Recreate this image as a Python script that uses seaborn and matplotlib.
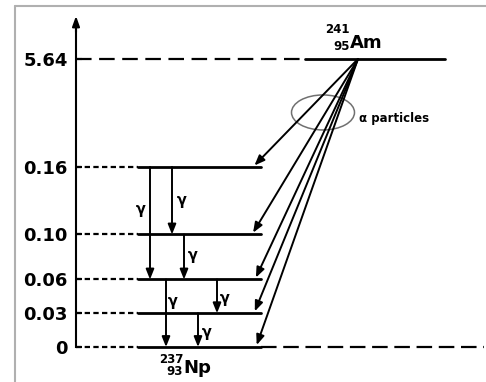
import numpy as np
import pandas as pd
import matplotlib
matplotlib.use('Agg')
import matplotlib.pyplot as plt
import seaborn as sns
from matplotlib.patches import Ellipse
from matplotlib.lines import Line2D

# ---------------- data ----------------
level_energies = [0.0, 0.03, 0.06, 0.10, 0.16]          # 237Np levels (MeV)
parent_energy = 5.64                                     # 241Am level (MeV)
tick_values = [0.0, 0.03, 0.06, 0.10, 0.16, 5.64]
tick_labels = ['0', '0.03', '0.06', '0.10', '0.16', '5.64']
gamma_from = [0.16, 0.16, 0.10, 0.06, 0.06, 0.03]
gamma_to = [0.06, 0.10, 0.06, 0.00, 0.03, 0.00]
alpha_to = [0.16, 0.10, 0.06, 0.03, 0.00]

# ---------------- layout ----------------
AXIS_X = 76
NP_X0, NP_X1 = 138, 261
AM_X0, AM_X1 = 305, 445
AM_SRC_X = 358
gamma_x = [150, 172, 184, 166, 217, 198]
gamma_label_dx = [-9, 10, 9, 7, 8, 9]
gamma_label_frac = [0.38, 0.5, 0.47, 0.33, 0.55, 0.56]
alpha_tip_x = [253, 252, 255, 254, 256]

BREAK = 0.16
K = 0.017518


def fwd(e):
    e = np.asarray(e, float)
    return np.where(e <= BREAK, e, BREAK + (e - BREAK) * K)


def inv(t):
    t = np.asarray(t, float)
    return np.where(t <= BREAK, t, BREAK + (t - BREAK) / K)


sns.set_theme(style='white', rc={'text.color': 'black', 'axes.edgecolor': 'black',
                                 'ytick.color': 'black', 'axes.labelcolor': 'black'})
plt.rcParams['font.family'] = ['DejaVu Sans']

fig = plt.figure(figsize=(4.86, 3.82), dpi=100)
ax = fig.add_axes([0, 0, 1, 1])

# solid energy levels via seaborn
rows = []
for e in level_energies:
    rows.append(dict(x=NP_X0, E=e, lvl=f'Np{e}'))
    rows.append(dict(x=NP_X1, E=e, lvl=f'Np{e}'))
rows.append(dict(x=AM_X0, E=parent_energy, lvl='Am'))
rows.append(dict(x=AM_X1, E=parent_energy, lvl='Am'))
df = pd.DataFrame(rows)
sns.lineplot(data=df, x='x', y='E', units='lvl', estimator=None, sort=False,
             color='black', lw=2, ax=ax, legend=False)
ax.set_xlabel('')
ax.set_ylabel('')

# dashed guides
for e in level_energies:
    ax.plot([AXIS_X, NP_X0], [e, e], color='black', lw=1.6, dashes=(2.4, 1.5))
ax.plot([AXIS_X, AM_X0], [parent_energy, parent_energy], color='black', lw=1.6,
        dashes=(7.0, 3.4))
ax.plot([NP_X1, 484], [0, 0], color='black', lw=1.6, dashes=(7.0, 3.0))

# gamma transitions
for ef, et, x, dx, fr in zip(gamma_from, gamma_to, gamma_x, gamma_label_dx, gamma_label_frac):
    ax.annotate('', xy=(x, et), xytext=(x, ef),
                arrowprops=dict(arrowstyle='-|>,head_length=0.5,head_width=0.2',
                                lw=1.4, color='black', shrinkA=0, shrinkB=0))
    ax.text(x + dx, ef - fr * (ef - et), 'γ', ha='center', va='center',
            fontsize=10.5, fontweight='bold')

# alpha transitions
for et, tx in zip(alpha_to, alpha_tip_x):
    ax.annotate('', xy=(tx, et), xytext=(AM_SRC_X, parent_energy),
                arrowprops=dict(arrowstyle='-|>,head_length=0.5,head_width=0.2',
                                lw=1.4, color='black', shrinkA=0, shrinkB=1.5))

# ellipse and label
ell = Ellipse((323, 2.925), 63, 1.776, fill=False, ec='#707070', lw=1.1)
ax.add_patch(ell)
ax.annotate('α particles', xy=(323, 2.925), xytext=(36, -6), textcoords='offset pixels',
            ha='left', va='center', fontsize=8.5, fontweight='bold')

# nuclide labels
ax.annotate('Am', xy=(350, parent_energy), xytext=(0, 11), textcoords='offset pixels',
            ha='left', va='baseline', fontsize=13, fontweight='bold')
ax.annotate('241', xy=(350, parent_energy), xytext=(0, 26), textcoords='offset pixels',
            ha='right', va='baseline', fontsize=8.5, fontweight='bold')
ax.annotate('95', xy=(350, parent_energy), xytext=(0, 9), textcoords='offset pixels',
            ha='right', va='baseline', fontsize=8.5, fontweight='bold')
ax.annotate('Np', xy=(183, 0), xytext=(0, -26), textcoords='offset pixels',
            ha='left', va='baseline', fontsize=13, fontweight='bold')
ax.annotate('237', xy=(183, 0), xytext=(0, -16), textcoords='offset pixels',
            ha='right', va='baseline', fontsize=8.5, fontweight='bold')
ax.annotate('93', xy=(183, 0), xytext=(0, -28), textcoords='offset pixels',
            ha='right', va='baseline', fontsize=8.5, fontweight='bold')

# axis
ax.set_yscale('function', functions=(fwd, inv))
ax.set_xlim(0, 486)
ax.set_ylim(-0.0311, 8.63)
for s in ['top', 'right', 'bottom']:
    ax.spines[s].set_visible(False)
ax.spines['left'].set_position(('data', AXIS_X))
ax.spines['left'].set_bounds(0, 7.5)
ax.spines['left'].set_linewidth(1.5)
ax.annotate('', xy=(AXIS_X, 7.82), xytext=(AXIS_X, 7.0),
            arrowprops=dict(arrowstyle='-|>,head_length=0.5,head_width=0.18',
                            lw=1.5, color='black', shrinkA=0, shrinkB=0))
ax.set_xticks([])
ax.set_yticks(tick_values, labels=tick_labels)
ax.yaxis.set_minor_locator(matplotlib.ticker.NullLocator())
ax.tick_params(axis='y', left=True, direction='in', length=4, width=1.5, pad=6,
               labelsize=13)
for lab in ax.get_yticklabels():
    lab.set_fontweight('bold')
ax.patch.set_alpha(0)

# outer picture frame (left and top edges only)
fx = 14.5 / 486
fy = 1 - 5.5 / 382
fig.lines.append(Line2D([fx, fx], [0, fy], transform=fig.transFigure,
                        color='#b0b0b0', lw=1.5))
fig.lines.append(Line2D([fx, 1], [fy, fy], transform=fig.transFigure,
                        color='#b0b0b0', lw=1.5))

fig.savefig('out.png', dpi=100)
